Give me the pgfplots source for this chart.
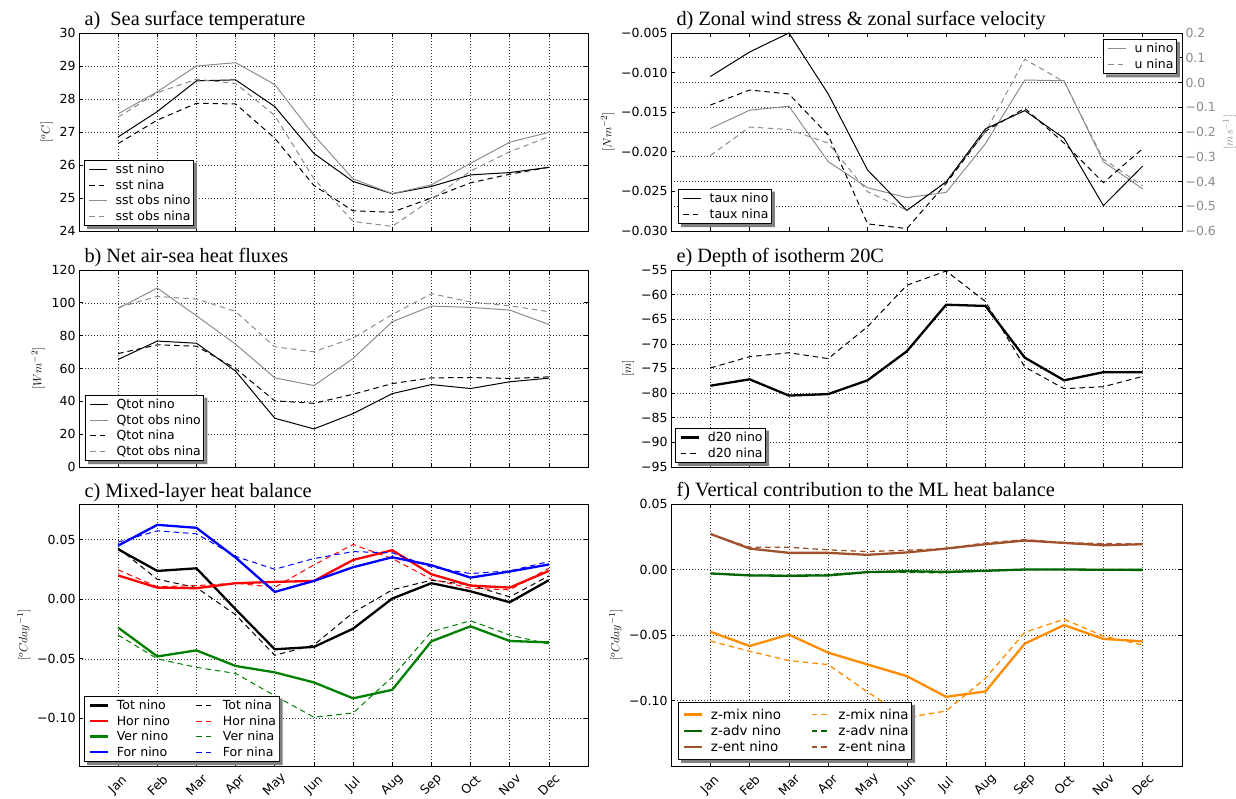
\documentclass[border=0pt]{standalone}
\usepackage{fontspec}
\setmainfont{DejaVu Sans}
\newfontfamily\titlefont{Liberation Serif}
\usepackage{pgfplots}
\usepackage{pgfplotstable}
\pgfplotsset{compat=1.18}

\definecolor{obsgray}{gray}{0.55}
\definecolor{mred}{rgb}{1,0,0}
\definecolor{mgreen}{rgb}{0,0.5,0}
\definecolor{mblue}{rgb}{0,0,1}
\definecolor{zorange}{HTML}{FF8C00}
\definecolor{zgreen}{HTML}{006400}
\definecolor{zbrown}{HTML}{A0522D}

\pgfplotstableread{
m sn sa on oa
1 26.85 26.65 27.55 27.45
2 27.62 27.36 28.22 28.19
3 28.55 27.87 29.00 28.60
4 28.58 27.85 29.10 28.47
5 27.77 26.81 28.44 27.50
6 26.35 25.38 26.90 25.58
7 25.50 24.61 25.58 24.29
8 25.13 24.57 25.13 24.14
9 25.35 25.00 25.40 24.95
10 25.70 25.46 26.05 25.82
11 25.77 25.72 26.69 26.40
12 25.93 25.93 26.99 26.86
}\tabA

\pgfplotstableread{
m qn qon qa qoa
1 65.5 96.6 69.1 97.2
2 76.7 109.0 74.4 103.9
3 75.4 92.1 73.6 102.3
4 58.4 74.8 60.0 94.8
5 29.7 54.3 40.3 73.2
6 23.2 49.6 38.8 70.2
7 32.5 66.1 44.3 78.5
8 44.7 88.5 50.8 92.9
9 50.2 98.0 54.3 105.6
10 47.8 97.2 54.5 100.5
11 51.9 95.6 53.9 98.2
12 54.1 86.8 54.9 94.6
}\tabB

\pgfplotstableread{
m tn ta hn ha vn va fn fa
1 0.0420 0.0430 0.0200 0.0247 -0.0238 -0.0300 0.0451 0.0480
2 0.0238 0.0168 0.0098 0.0105 -0.0480 -0.0500 0.0625 0.0575
3 0.0260 0.0098 0.0093 0.0115 -0.0429 -0.0572 0.0600 0.0550
4 -0.0084 -0.0130 0.0135 0.0135 -0.0560 -0.0623 0.0350 0.0360
5 -0.0420 -0.0470 0.0146 0.0100 -0.0614 -0.0810 0.0062 0.0252
6 -0.0400 -0.0384 0.0154 0.0289 -0.0698 -0.0990 0.0154 0.0342
7 -0.0247 -0.0112 0.0330 0.0460 -0.0832 -0.0955 0.0269 0.0400
8 0.0006 0.0079 0.0412 0.0342 -0.0760 -0.0653 0.0353 0.0390
9 0.0135 0.0160 0.0210 0.0168 -0.0353 -0.0272 0.0286 0.0270
10 0.0067 0.0120 0.0115 0.0093 -0.0227 -0.0180 0.0182 0.0216
11 -0.0025 0.0020 0.0098 0.0079 -0.0350 -0.0300 0.0233 0.0238
12 0.0160 0.0196 0.0238 0.0260 -0.0362 -0.0376 0.0292 0.0317
}\tabC

\pgfplotstableread{
m tn ta un ua
1 -0.0105 -0.0141 -0.186 -0.295
2 -0.0074 -0.0122 -0.112 -0.180
3 -0.0050 -0.0127 -0.096 -0.190
4 -0.0127 -0.0179 -0.320 -0.245
5 -0.0223 -0.0291 -0.425 -0.441
6 -0.0274 -0.0297 -0.465 -0.516
7 -0.0238 -0.0240 -0.444 -0.400
8 -0.0171 -0.0174 -0.247 -0.200
9 -0.0148 -0.0145 0.010 0.094
10 -0.0183 -0.0189 0.007 0.003
11 -0.0268 -0.0239 -0.320 -0.310
12 -0.0218 -0.0196 -0.430 -0.417
}\tabD

\pgfplotstableread{
m dn da
1 -78.5 -74.9
2 -77.2 -72.6
3 -80.5 -71.8
4 -80.2 -73.0
5 -77.4 -66.5
6 -71.5 -58.1
7 -62.05 -55.2
8 -62.3 -61.4
9 -72.8 -74.7
10 -77.4 -79.1
11 -75.75 -78.7
12 -75.75 -76.6
}\tabE

\pgfplotstableread{
m en ea an aa xn xa
1 0.0272 0.0270 -0.0030 -0.0030 -0.0475 -0.0546
2 0.0160 0.0170 -0.0045 -0.0045 -0.0584 -0.0624
3 0.0127 0.0170 -0.0048 -0.0045 -0.0497 -0.0695
4 0.0127 0.0150 -0.0045 -0.0038 -0.0635 -0.0726
5 0.0112 0.0137 -0.0020 -0.0018 -0.0725 -0.0935
6 0.0130 0.0147 -0.0013 -0.0022 -0.0814 -0.1130
7 0.0160 0.0160 -0.0018 -0.0025 -0.0972 -0.1080
8 0.0193 0.0203 -0.0010 -0.0010 -0.0931 -0.0830
9 0.0221 0.0228 0.0000 0.0000 -0.0566 -0.0480
10 0.0203 0.0205 0.0000 0.0000 -0.0424 -0.0380
11 0.0185 0.0198 -0.0002 0.0000 -0.0530 -0.0508
12 0.0193 0.0195 -0.0003 0.0000 -0.0548 -0.0576
}\tabF

\pgfplotsset{
  base/.style={
    scale only axis, xmin=0, xmax=13, xtick={1,2,3,4,5,6,7,8,9,10,11,12},
    scaled y ticks=false, scaled x ticks=false,
    tick align=inside, major tick length=4pt,
    every tick/.style={black, line width=0.7pt},
    axis line style={line width=0.9pt},
    grid style={dash pattern=on 1pt off 2pt, black!80, line width=0.6pt},
    tick label style={font=\fontsize{12.5}{14}\selectfont},
    ylabel style={font=\fontsize{13}{15}\selectfont},
    title style={at={(0,1)}, anchor=base west, xshift=2pt, yshift=1pt, font=\titlefont\fontsize{20.3}{22}\selectfont},
    legend cell align=left,
    legend image code/.code={%
      \draw[mark repeat=2,mark phase=2] plot coordinates {(0pt,0pt) (9pt,0pt) (18pt,0pt)};
      \path (-3pt,0pt) (24pt,0pt);},
    legend style={font=\fontsize{12.5}{14}\selectfont, draw=black, line width=0.9pt, fill=white,
      anchor=south west, inner xsep=1pt, inner ysep=2pt, row sep=0.5pt},
    every axis plot/.append style={line width=1pt},
  },
  nox/.style={xticklabels={}},
  monthx/.style={xticklabels={Jan,Feb,Mar,Apr,May,Jun,Jul,Aug,Sep,Oct,Nov,Dec},
    xticklabel style={yshift=-19pt, rotate=45, anchor=center}},
  dsh/.style={dash pattern=on 5.5pt off 4pt},
  thk/.style={line width=2.3pt},
}
\newcommand\legshadow[1]{%
  \fill[black!50] ([xshift=3pt,yshift=-3pt]#1.south west) -- ([xshift=3pt,yshift=-3pt]#1.south east)
    -- ([xshift=3pt,yshift=-3pt]#1.north east) -- ([yshift=-3pt]#1.north east)
    -- (#1.south east) -- ([xshift=3pt]#1.south west) -- cycle;}

\begin{document}
\begin{tikzpicture}
\useasboundingbox (0pt,0pt) rectangle (1236pt,798pt);

% a
\begin{axis}[base, nox, at={(79pt,567pt)}, anchor=south west, width=509pt, height=198pt,
  ymin=24, ymax=30, ytick={24,25,26,27,28,29,30}, yticklabels={24,25,26,27,28,29,30},
  xmajorgrids, ymajorgrids,
  ylabel={$[^{o}C]$}, title={a)\ \ Sea surface temperature},
  legend style={at={(0.01,0.025)}, name=legA}]
\addplot[black] table[x=m,y=sn]{\tabA};
\addlegendentry{sst nino}
\addplot[black,dsh] table[x=m,y=sa]{\tabA};
\addlegendentry{sst nina}
\addplot[obsgray] table[x=m,y=on]{\tabA};
\addlegendentry{sst obs nino}
\addplot[obsgray,dsh] table[x=m,y=oa]{\tabA};
\addlegendentry{sst obs nina}
\end{axis}
\legshadow{legA}

% b
\begin{axis}[base, nox, at={(79pt,331pt)}, anchor=south west, width=509pt, height=197pt,
  ymin=0, ymax=120, ytick={0,20,40,60,80,100,120}, yticklabels={0,20,40,60,80,100,120},
  xmajorgrids, ymajorgrids,
  ylabel={$[Wm^{-2}]$}, title={b) Net air-sea heat fluxes},
  legend style={at={(0.012,0.03)}, name=legB}]
\addplot[black] table[x=m,y=qn]{\tabB};
\addlegendentry{Qtot nino}
\addplot[obsgray] table[x=m,y=qon]{\tabB};
\addlegendentry{Qtot obs nino}
\addplot[black,dsh] table[x=m,y=qa]{\tabB};
\addlegendentry{Qtot nina}
\addplot[obsgray,dsh] table[x=m,y=qoa]{\tabB};
\addlegendentry{Qtot obs nina}
\end{axis}
\legshadow{legB}

% c
\begin{axis}[base, monthx, at={(79pt,32pt)}, anchor=south west, width=509pt, height=262pt,
  ymin=-0.14, ymax=0.08, ytick={-0.1,-0.05,0,0.05}, yticklabels={−0.10,−0.05,0.00,0.05},
  xmajorgrids, ymajorgrids,
  ylabel={$[^{o}Cday^{-1}]$}, title={c) Mixed-layer heat balance},
  legend columns=2,
  legend style={at={(0.01,0.015)}, name=legC, /tikz/every even column/.append style={column sep=21pt}}]
\addplot[black,thk] table[x=m,y=tn]{\tabC};
\addlegendentry{Tot nino}
\addplot[black,dsh] table[x=m,y=ta]{\tabC};
\addlegendentry{Tot nina}
\addplot[mred,thk] table[x=m,y=hn]{\tabC};
\addlegendentry{Hor nino}
\addplot[mred,dsh] table[x=m,y=ha]{\tabC};
\addlegendentry{Hor nina}
\addplot[mgreen,thk] table[x=m,y=vn]{\tabC};
\addlegendentry{Ver nino}
\addplot[mgreen,dsh] table[x=m,y=va]{\tabC};
\addlegendentry{Ver nina}
\addplot[mblue,thk] table[x=m,y=fn]{\tabC};
\addlegendentry{For nino}
\addplot[mblue,dsh] table[x=m,y=fa]{\tabC};
\addlegendentry{For nina}
\end{axis}
\legshadow{legC}

% d (right axis first)
\begin{axis}[base, at={(671pt,567pt)}, anchor=south west, width=511pt, height=198pt,
  hide x axis, axis y line*=right, ytick pos=right,
  ymin=-0.6, ymax=0.2, ytick={-0.6,-0.5,-0.4,-0.3,-0.2,-0.1,0,0.1,0.2},
  yticklabels={−0.6,−0.5,−0.4,−0.3,−0.2,−0.1,0.0,0.1,0.2},
  yticklabel style={obsgray}, ymajorgrids,
  ylabel={$[ms^{-1}]$}, ylabel style={obsgray},
  legend style={at={(0.99,0.97)}, anchor=north east, name=legDu}]
\addplot[obsgray] table[x=m,y=un]{\tabD};
\addlegendentry{u nino}
\addplot[obsgray,dsh] table[x=m,y=ua]{\tabD};
\addlegendentry{u nina}
\end{axis}
\legshadow{legDu}
\begin{axis}[base, nox, at={(671pt,567pt)}, anchor=south west, width=511pt, height=198pt,
  ytick pos=left,
  ymin=-0.030, ymax=-0.005, ytick={-0.03,-0.025,-0.02,-0.015,-0.01,-0.005},
  yticklabels={−0.030,−0.025,−0.020,−0.015,−0.010,−0.005},
  ylabel={$[Nm^{-2}]$}, title={d) Zonal wind stress \& zonal surface velocity},
  legend style={at={(0.014,0.035)}, name=legDt}]
\addplot[black] table[x=m,y=tn]{\tabD};
\addlegendentry{taux nino}
\addplot[black,dsh] table[x=m,y=ta]{\tabD};
\addlegendentry{taux nina}
\end{axis}
\legshadow{legDt}

% e
\begin{axis}[base, nox, at={(671pt,331pt)}, anchor=south west, width=511pt, height=197pt,
  ymin=-95, ymax=-55, ytick={-95,-90,-85,-80,-75,-70,-65,-60,-55},
  yticklabels={−95,−90,−85,−80,−75,−70,−65,−60,−55},
  xmajorgrids, ymajorgrids,
  ylabel={$[m]$}, title={e) Depth of isotherm 20C},
  legend style={at={(0.008,0.02)}, name=legE}]
\addplot[black,thk] table[x=m,y=dn]{\tabE};
\addlegendentry{d20 nino}
\addplot[black,dsh] table[x=m,y=da]{\tabE};
\addlegendentry{d20 nina}
\end{axis}
\legshadow{legE}

% f
\begin{axis}[base, monthx, at={(671pt,32pt)}, anchor=south west, width=511pt, height=262pt,
  ymin=-0.15, ymax=0.05, ytick={-0.1,-0.05,0,0.05}, yticklabels={−0.10,−0.05,0.00,0.05},
  xmajorgrids, ymajorgrids,
  ylabel={$[^{o}Cday^{-1}]$}, title={f) Vertical contribution to the ML heat balance},
  legend columns=2,
  legend style={at={(0.014,0.023)}, name=legF, font=\fontsize{13.5}{15}\selectfont,
    inner ysep=4.5pt, /tikz/every even column/.append style={column sep=25pt}}]
\addplot[zorange,thk] table[x=m,y=xn]{\tabF};
\addlegendentry{z-mix nino}
\addplot[zorange,dsh,line width=1.3pt] table[x=m,y=xa]{\tabF};
\addlegendentry{z-mix nina}
\addplot[zgreen,thk] table[x=m,y=an]{\tabF};
\addlegendentry{z-adv nino}
\addplot[zgreen,dsh,line width=1.3pt] table[x=m,y=aa]{\tabF};
\addlegendentry{z-adv nina}
\addplot[zbrown,thk] table[x=m,y=en]{\tabF};
\addlegendentry{z-ent nino}
\addplot[zbrown,dsh,line width=1.3pt] table[x=m,y=ea]{\tabF};
\addlegendentry{z-ent nina}
\end{axis}
\legshadow{legF}
\end{tikzpicture}
\end{document}
